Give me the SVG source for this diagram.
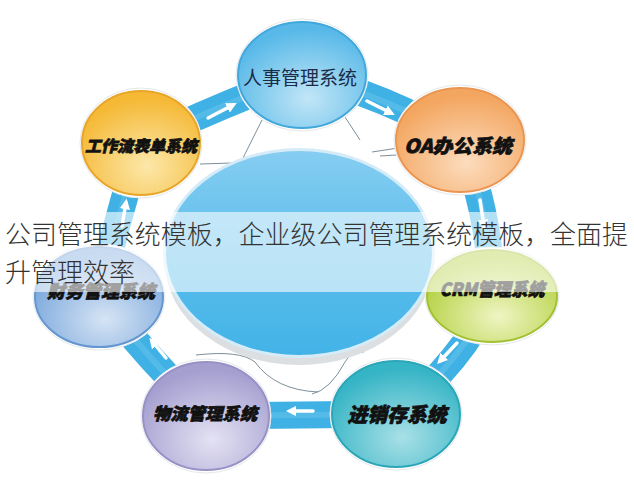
<svg xmlns="http://www.w3.org/2000/svg" width="634" height="490" viewBox="0 0 634 490">
<defs>
  <linearGradient id="gCenter" x1="0" y1="0" x2="0" y2="1">
    <stop offset="0" stop-color="#86cdf1"/>
    <stop offset="0.5" stop-color="#5cbeec"/>
    <stop offset="1" stop-color="#43b3e7"/>
  </linearGradient>
  <radialGradient id="gHR" cx="0.55" cy="0.72" r="0.65"><stop offset="0" stop-color="#c2e6f7"/><stop offset="1" stop-color="#58b9e8"/></radialGradient>
  <radialGradient id="gWF" cx="0.55" cy="0.72" r="0.65"><stop offset="0" stop-color="#fce8aa"/><stop offset="1" stop-color="#f5b936"/></radialGradient>
  <radialGradient id="gOA" cx="0.55" cy="0.72" r="0.65"><stop offset="0" stop-color="#fcdcbd"/><stop offset="1" stop-color="#f3a660"/></radialGradient>
  <radialGradient id="gFin" cx="0.55" cy="0.72" r="0.65"><stop offset="0" stop-color="#d6e4f4"/><stop offset="1" stop-color="#78a6dc"/></radialGradient>
  <radialGradient id="gCRM" cx="0.55" cy="0.72" r="0.65"><stop offset="0" stop-color="#eff5c4"/><stop offset="1" stop-color="#b2cf3c"/></radialGradient>
  <radialGradient id="gLog" cx="0.55" cy="0.72" r="0.65"><stop offset="0" stop-color="#e4e2f3"/><stop offset="1" stop-color="#a59fd0"/></radialGradient>
  <radialGradient id="gInv" cx="0.55" cy="0.72" r="0.65"><stop offset="0" stop-color="#a9e0e7"/><stop offset="1" stop-color="#35b4c5"/></radialGradient>
  <marker id="ah" viewBox="0 0 10 10" refX="6" refY="5" markerWidth="3" markerHeight="3" orient="auto">
    <path d="M0,0 L10,5 L0,10 z" fill="#ffffff"/>
  </marker>
</defs>
<style>
  .band{fill:none;stroke:#3fb1e4;stroke-width:27;stroke-linejoin:round}
  .bandHi{fill:none;stroke:#7ccdf0;stroke-width:6;opacity:0.35}
  .arrow{stroke:#ffffff;stroke-width:3.5;fill:none;stroke-linecap:round;marker-end:url(#ah)}
  .thin{stroke:#7d8f9c;stroke-width:1;fill:none}
  .glow{fill:#ffffff;stroke:#e4e8ec;stroke-width:1}
  .lbl{font-family:"Noto Sans CJK SC","Liberation Sans",sans-serif;font-weight:900;font-style:italic;fill:#111111;stroke:#111111;stroke-width:0.7;text-anchor:middle;dominant-baseline:central}
  .lblHR{font-family:"Noto Sans CJK SC","Liberation Sans",sans-serif;font-weight:400;fill:#1b2b48;text-anchor:middle;dominant-baseline:central;font-size:19px}
  .over{font-family:"Noto Sans CJK SC","Liberation Sans",sans-serif;font-weight:300;fill:#333333;font-size:26px}
</style>

<g id="connectors">
  <path class="band" d="M302,75 Q385,95 460,140 Q490,210 492,296 Q462,362 396,414 Q300,415 206,416 Q150,360 99,297 Q118,215 141,143 Q220,105 302,75 Z"/>
  <path class="bandHi" d="M302,75 Q385,95 460,140 Q490,210 492,296 Q462,362 396,414 Q300,415 206,416 Q150,360 99,297 Q118,215 141,143 Q220,105 302,75 Z"/>
  <line class="arrow" x1="208" y1="118" x2="233" y2="105"/>
  <line class="arrow" x1="367" y1="101" x2="391" y2="113"/>
  <line class="arrow" x1="480" y1="200" x2="484" y2="226"/>
  <line class="arrow" x1="457" y1="343" x2="440" y2="361"/>
  <line class="arrow" x1="313" y1="411" x2="290" y2="411"/>
  <line class="arrow" x1="166" y1="358" x2="152" y2="341"/>
  <line class="arrow" x1="122" y1="226" x2="126" y2="203"/>
  <path class="thin" d="M262,120 L232,180"/>
  <path class="thin" d="M345,117 L360,140"/>
  <path class="thin" d="M200,164 L232,163"/>
  <path class="thin" d="M372,152 L398,148"/>
  <path class="thin" d="M380,156 L396,155"/>
  <path class="thin" d="M196,355 Q240,350 255,362 Q275,390 318,392"/>
  <path class="thin" d="M364,352 Q350,352 345,362 Q330,390 312,394"/>
</g>

<g id="center">
  <ellipse cx="299" cy="262" rx="134" ry="103" fill="#dcdfe2"/>
  <ellipse cx="299" cy="253" rx="136" ry="105" fill="#d5ecf8"/>
  <ellipse cx="299" cy="253" rx="133" ry="102" fill="url(#gCenter)"/>
</g>

<g id="node-hr">
  <ellipse cx="302" cy="75" rx="66" ry="56" class="glow"/>
  <ellipse cx="302" cy="75" rx="64" ry="53" fill="url(#gHR)" stroke="#42a8dc" stroke-width="2"/>
  <text class="lblHR" x="300" y="76">人事管理系统</text>
</g>
<g id="node-oa">
  <ellipse cx="460" cy="140" rx="66" ry="55" class="glow"/>
  <ellipse cx="460" cy="140" rx="64" ry="52" fill="url(#gOA)" stroke="#ea9652" stroke-width="2"/>
  <text class="lbl" x="458" y="144" font-size="19" textLength="108" lengthAdjust="spacingAndGlyphs">OA办公系统</text>
</g>
<g id="node-workflow">
  <ellipse cx="141" cy="143" rx="61" ry="55" class="glow"/>
  <ellipse cx="141" cy="143" rx="59" ry="52" fill="url(#gWF)" stroke="#e8a52a" stroke-width="2"/>
  <text class="lbl" x="141" y="145" font-size="16" textLength="112" lengthAdjust="spacingAndGlyphs">工作流表单系统</text>
</g>
<g id="node-finance">
  <ellipse cx="99" cy="297" rx="66" ry="53" class="glow"/>
  <ellipse cx="99" cy="297" rx="64" ry="50" fill="url(#gFin)" stroke="#6496d0" stroke-width="2"/>
  <text class="lbl" x="101" y="290" font-size="18" textLength="108" lengthAdjust="spacingAndGlyphs">财务管理系统</text>
</g>
<g id="node-crm">
  <ellipse cx="492" cy="296" rx="67" ry="49" class="glow"/>
  <ellipse cx="492" cy="296" rx="65" ry="46" fill="url(#gCRM)" stroke="#a2c132" stroke-width="2"/>
  <text class="lbl" x="492" y="288" font-size="18" textLength="105" lengthAdjust="spacingAndGlyphs">CRM管理系统</text>
</g>
<g id="node-logistics">
  <ellipse cx="206" cy="416" rx="65" ry="57" class="glow"/>
  <ellipse cx="206" cy="416" rx="63" ry="54" fill="url(#gLog)" stroke="#9891c6" stroke-width="2"/>
  <text class="lbl" x="205" y="412" font-size="17" textLength="104" lengthAdjust="spacingAndGlyphs">物流管理系统</text>
</g>
<g id="node-inventory">
  <ellipse cx="396" cy="414" rx="66" ry="56" class="glow"/>
  <ellipse cx="396" cy="414" rx="64" ry="53" fill="url(#gInv)" stroke="#2aa6b8" stroke-width="2"/>
  <text class="lbl" x="397" y="413" font-size="20" textLength="99" lengthAdjust="spacingAndGlyphs">进销存系统</text>
</g>

<g id="overlay">
  <rect x="0" y="212" width="634" height="80" fill="#ffffff" opacity="0.6"/>
  <text class="over" x="5" y="244" textLength="623" lengthAdjust="spacingAndGlyphs">公司管理系统模板，企业级公司管理系统模板，全面提</text>
  <text class="over" x="5" y="282">升管理效率</text>
</g>
</svg>
